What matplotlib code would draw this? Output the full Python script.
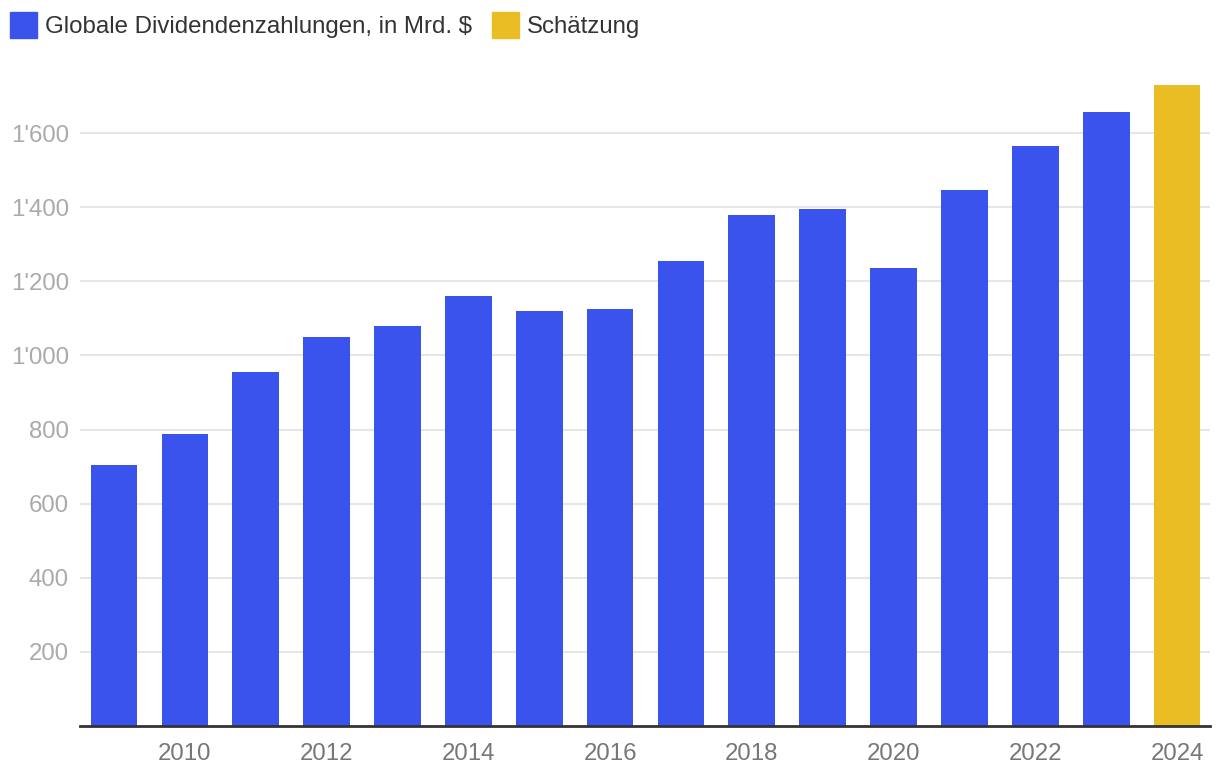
import matplotlib.pyplot as plt
from matplotlib.patches import Patch
from matplotlib.ticker import FuncFormatter

plt.rcParams['font.family'] = ['Liberation Sans', 'DejaVu Sans']

# Daten
jahre = [2009, 2010, 2011, 2012, 2013, 2014, 2015, 2016,
         2017, 2018, 2019, 2020, 2021, 2022, 2023, 2024]
dividenden = [704, 788, 955, 1050, 1079, 1160, 1120, 1125,
              1255, 1379, 1395, 1236, 1446, 1565, 1657, 1730]
schaetzung = [False] * 15 + [True]
x_labels = [2010, 2012, 2014, 2016, 2018, 2020, 2022, 2024]
y_ticks = [200, 400, 600, 800, 1000, 1200, 1400, 1600]

blau = '#3a53ec'
gelb = '#eabd24'

fig = plt.figure(figsize=(12.2, 7.8), dpi=100)
ax = fig.add_axes([0.0656, 0.0692, 0.9262, 0.8538])

farben = [gelb if s else blau for s in schaetzung]
pos = list(range(len(jahre)))
ax.bar(pos, dividenden, width=0.66, color=farben, zorder=2)

ax.set_xlim(-0.48, 15.465)
ax.set_ylim(0, 1797)

ax.set_xticks([jahre.index(j) for j in x_labels])
ax.set_xticklabels([str(j) for j in x_labels])
ax.set_yticks(y_ticks)
ax.yaxis.set_major_formatter(FuncFormatter(lambda v, p: f"{int(v):,}".replace(",", "'")))

ax.tick_params(axis='x', length=0, pad=12, labelsize=17.3, labelcolor='#777777')
ax.tick_params(axis='y', length=0, pad=8, labelsize=17.3, labelcolor='#aaaaaa')
ax.grid(axis='y', color='#e6e6e6', linewidth=1.5, zorder=0)

for s in ['top', 'right', 'left']:
    ax.spines[s].set_visible(False)
ax.spines['bottom'].set_color('#333333')
ax.spines['bottom'].set_linewidth(2)
ax.spines['bottom'].set_zorder(3)

handles = [Patch(color=blau, label='Globale Dividendenzahlungen, in Mrd. $'),
           Patch(color=gelb, label='Schätzung')]
fig.legend(handles=handles, loc='upper left', bbox_to_anchor=(10 / 1220, 1 - 12 / 780),
           ncol=2, frameon=False, fontsize=17.3, handlelength=1.12, handleheight=1.3,
           handletextpad=0.33, columnspacing=0.83, labelcolor='#333333',
           borderaxespad=0, borderpad=0)

fig.savefig('out.png', dpi=100)
